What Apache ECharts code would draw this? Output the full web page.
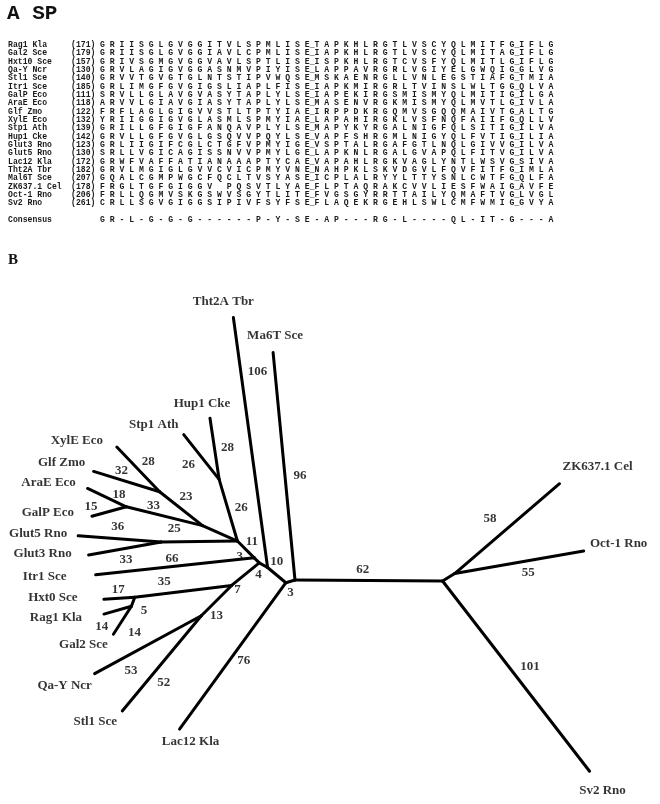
<!DOCTYPE html>
<html><head><meta charset="utf-8">
<script src="https://cdn.jsdelivr.net/npm/echarts@6/dist/echarts.min.js"></script>
<style>html,body{margin:0;padding:0;background:#fff;}#c{width:660px;height:804px;}</style>
</head><body><div id="c"></div>
<script>
// ================= Panel A: alignment data =================
const alignNames = ['Rag1 Kla','Gal2 Sce','Hxt10 Sce','Qa-Y Ncr','Stl1 Sce','Itr1 Sce','GalP Eco','AraE Eco','Glf Zmo','XylE Eco','Stp1 Ath','Hup1 Cke','Glut3 Rno','Glut5 Rno','Lac12 Kla','Tht2A Tbr','Mal6T Sce','ZK637.1 Cel','Oct-1 Rno','Sv2 Rno'];
const alignStarts = [171,179,157,130,140,185,111,118,122,132,139,142,123,130,172,182,207,178,206,261];
const alignBlock1 = [
 'GRIISGLGVGGITVLSPMLISETA','GRIISGLGVGGIAVLCPMLISEIA','GRIVSGMGVGGVAVLSPTLISEIS','GRVLAGIGVGGASNMVPIYISELA',
 'GRVVTGVGTGLNTSTIPVWQSEMS','GRLIMGFGVGIGSLIAPLFISEIA','SRVLLGLAVGVASYTAPLYLSEIA','ARVVLGIAVGIASYTAPLYLSEMA',
 'FRFLAGLGIGVVSTLTPTYIAEIR','YRIIGGIGVGLASMLSPMYIAELA','GRILLGFGIGFANQAVPLYLSEMA','GRVLLGFGVGLGSQVVPQYLSEVA',
 'GRLIIGIFCGLCTGFVPMYIGEVS','SRLLVGICAGISSNVVPMYLGELA','GRWFVAFFATIANAAAPTYCAEVA','GRVLMGIGLGVVCVICPMYVNENA',
 'GQALCGMPWGCFQCLTVSYASEIC','FRGLTGFGIGGV PQSVTLYAEFL','FRLLQGMVSKGSWVSGYTLITEFV','CRLLSGVGIGGSIPIVFSYFSEFL'];
const alignBlock2 = [
 'PKHLRGTLVSCYQLMITFGIFLG','PKHLRGTLVSCYQLMITAGIFLG','PKHLRGTCVSFYQLMITLGIFLG','PPAVRGRLVGIYELGWQIGGLVG',
 'KAENRGLLVNLEGSTIAFGTMIA','PKMIRGRLTVINSLWLTGGQLVA','PEKIRGSMISMYQLMITIGILGA','SENVRGKMISMYQLMVTLGIVLA',
 'PPDKRGQMVSGQQMAIVTGALTG','PAHIRGKLVSFNQFAIIFGQLLV','PYKYRGALNIGFQLSITIGILVA','PFSHRGMLNIGYQLFVTIGILIA',
 'PTALRGAFGTLNQLGIVVGILVA','PKNLRGALGVAPQLFITVGILVA','PAHLRGKVAGLYNTLWSVGSIVA','HPKLSKVDGVLFQVFITFGIMLA',
 'PLALRYYLTTYSNLCWTFGQLFA','PTAQRAKCVVLIESFWAIGAVFE','GSGYRRTTAILYQMAFTVGLVGL','AQEKRGEHLSWLCMFWMIGGVYA'];
const consensusName = 'Consensus';
const consensus1 = 'GR-L-G-G-G------P-Y-SE-A';
const consensus2 = 'P---RG-L----QL-IT-G---A';
const markAfter = [21, 42]; // residue indices followed by the split mark

// ================= Panel B: tree data =================
// [parent, child, branch length]
const treeEdges = [
 ['R','Ma6T Sce',96],['R','S',62],['S','T',6],['T','ZK637.1 Cel',58],['T','Oct-1 Rno',55],['S','Sv2 Rno',101],
 ['R','L',4],['L','Lac12 Kla',76],['L','A',10],['A','Tht2A Tbr',106],['A','B',4],['B','B2',3],['B2','C',10],
 ['B2','Itr1 Sce',67],['C','F',27],['F','Hup1 Cke',26],['F','Stp1 Ath',24],['C','AJ',16],['AJ','GJ',23],
 ['GJ','XylE Eco',26],['GJ','Glf Zmo',29],['AJ','AG',33],['AG','AraE Eco',18],['AG','GalP Eco',15],
 ['C','G35',32],['G35','Glut5 Rno',35],['G35','Glut3 Rno',31],['B','D',15],['D','H',41],['H','Hxt0 Sce',13],
 ['H','I',4],['I','Rag1 Kla',12],['I','Gal2 Sce',14],['D','G',18],['G','Qa-Y Ncr',51],['G','Stl1 Sce',52]];
// printed branch numbers
const edgeLabels = ['96','62','','58','55','101','3','76','10','106','4','3','11','66','26','28','26','','23','28','32','33','18','15','25','36','33','7','35','17','5','14','14','13','53','52'];
const leafNames = ['Ma6T Sce','ZK637.1 Cel','Oct-1 Rno','Sv2 Rno','Lac12 Kla','Tht2A Tbr','Itr1 Sce','Hup1 Cke','Stp1 Ath','XylE Eco','Glf Zmo','AraE Eco','GalP Eco','Glut5 Rno','Glut3 Rno','Hxt0 Sce','Rag1 Kla','Gal2 Sce','Qa-Y Ncr','Stl1 Sce'];

// ================= layout / style =================
const edgeAngles = [95.5,-0.4,31.6,40.6,9.9,-52.3,196.7,-126.0,140.2,97.8,151.0,135,135,186.1,106.5,98.5,128.3,156.2,141.7,133.7,162.9,166.1,154.7,-164.7,-179.3,175.8,-169.8,-140.8,-173.0,-176.3,-110.6,-164.1,-122.7,-135,-151.5,-129.7];
const edgeLabelOffsets = [[16,9],[-6,-11],null,[-17,-10],[9,10],[14,-9],[0,11],[11,5],[0,-13],[7,-71],[-5,9],[-17,-4],[6,-8],[-3,-8],[13,-3],[13,-1],[-13,8],null,[5,-12],[10,-8],[-5,-11],[-11,-11],[12,-3],[-18,-5],[-25,-13],[-2,-12],[1,11],[-8,15],[-19,-10],[-1,-9],[11,9],[-16,16],[12,12],[0,15],[-17,26],[2,19]];
const leafOffsets = {'Ma6T Sce':[2,-17],'ZK637.1 Cel':[38,-17],'Oct-1 Rno':[35,-7],'Sv2 Rno':[13,19],'Lac12 Kla':[11,13],'Tht2A Tbr':[-10,-16],'Itr1 Sce':[-51,2],'Hup1 Cke':[-8,-15],'Stp1 Ath':[-30,-10],'XylE Eco':[-40,-6],'Glf Zmo':[-32,-9],'AraE Eco':[-39,-6],'GalP Eco':[-44,-4],'Glut5 Rno':[-40,-2],'Glut3 Rno':[-46,-1],'Hxt0 Sce':[-51,-2],'Rag1 Kla':[-48,4],'Gal2 Sce':[-30,10],'Qa-Y Ncr':[-30,12],'Stl1 Sce':[-27,11]};
const W = 660, H = 804, K = 2.38, rootPx = [295, 580];

// ---- build tree positions (in branch-length units) ----
const pos = { R: [0, 0] };
treeEdges.forEach((e, i) => {
  const a = edgeAngles[i] * Math.PI / 180, p = pos[e[0]];
  pos[e[1]] = [p[0] + e[2] * Math.cos(a), p[1] + e[2] * Math.sin(a)];
});
const lineData = treeEdges.map(e => ({ coords: [pos[e[0]], pos[e[1]]] }));
const numData = [];
treeEdges.forEach((e, i) => {
  if (!edgeLabels[i]) return;
  const p = pos[e[0]], c = pos[e[1]];
  numData.push({ name: edgeLabels[i], value: [(p[0]+c[0])/2, (p[1]+c[1])/2], label: { offset: edgeLabelOffsets[i] } });
});
const leafData = leafNames.map(n => ({ name: n, value: pos[n], label: { offset: leafOffsets[n] } }));

// ---- alignment text ----
function spaced(seq, marks) {
  let out = '';
  for (let i = 0; i < seq.length; i++) {
    out += seq[i];
    if (i < seq.length - 1) out += marks.indexOf(i) >= 0 ? '_' : ' ';
  }
  return out;
}
const monoStyle = (t) => ({ text: t, fontSize: 8.15, fontWeight: 'bold', fontFamily: '"Liberation Mono", monospace', fill: '#1a1a1a', verticalAlign: 'middle', textVerticalAlign: 'middle' });
const graphics = [];
graphics.push({ type: 'text', x: 7, y: 14, style: { text: 'A SP', fontSize: 21, fontWeight: 'bold', fontFamily: '"Liberation Mono", monospace', fill: '#111', verticalAlign: 'middle', textVerticalAlign: 'middle' } });
graphics.push({ type: 'text', x: 8, y: 260, style: { text: 'B', fontSize: 15, fontWeight: 'bold', fontFamily: '"Liberation Serif", serif', fill: '#111', verticalAlign: 'middle', textVerticalAlign: 'middle' } });
alignNames.forEach((n, i) => {
  const y = 45 + 8.33 * i;
  graphics.push({ type: 'text', x: 8, y: y, style: monoStyle(n) });
  graphics.push({ type: 'text', x: 71, y: y, style: monoStyle('(' + alignStarts[i] + ')') });
  graphics.push({ type: 'text', x: 100, y: y, style: monoStyle(spaced(alignBlock1[i] + alignBlock2[i], markAfter)) });
});
graphics.push({ type: 'text', x: 8, y: 220, style: monoStyle(consensusName) });
graphics.push({ type: 'text', x: 100, y: 220, style: monoStyle(spaced(consensus1 + consensus2, [])) });

const serifLabel = { show: true, position: 'inside', formatter: '{b}', color: '#000', fontFamily: '"Liberation Serif", serif', fontWeight: 'bold', fontSize: 13, align: 'center', verticalAlign: 'middle' };
const chart = echarts.init(document.getElementById('c'), null, { renderer: 'canvas' });
chart.setOption({
  animation: false,
  backgroundColor: '#fff',
  grid: { left: 0, right: 0, top: 0, bottom: 0 },
  xAxis: { type: 'value', min: -rootPx[0] / K, max: (W - rootPx[0]) / K, show: false },
  yAxis: { type: 'value', min: -(H - rootPx[1]) / K, max: rootPx[1] / K, show: false },
  graphic: graphics,
  series: [
    { type: 'lines', coordinateSystem: 'cartesian2d', silent: true, data: lineData,
      lineStyle: { color: '#000', width: 3, opacity: 1, curveness: 0, cap: 'round' } },
    { type: 'scatter', silent: true, symbolSize: 1, itemStyle: { color: 'rgba(0,0,0,0)' }, data: numData, label: serifLabel },
    { type: 'scatter', silent: true, symbolSize: 1, itemStyle: { color: 'rgba(0,0,0,0)' }, data: leafData, label: serifLabel }
  ]
});
</script></body></html>
